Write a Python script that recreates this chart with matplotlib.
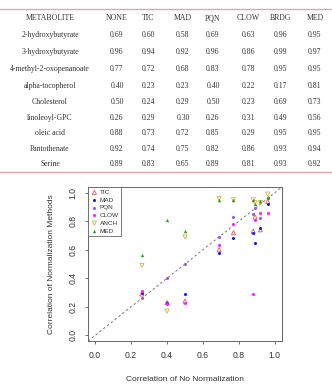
import matplotlib
matplotlib.use("Agg")
import matplotlib.pyplot as plt
from matplotlib.lines import Line2D

header = ["METABOLITE", "NONE", "TIC", "MAD", "PQN", "CLOW", "BRDG", "MED"]
metabolites = ["2-hydroxybutyrate", "3-hydroxybutyrate", "4-methyl-2-oxopenanoate",
               "alpha-tocopherol", "Cholesterol", "linoleoyl-GPC", "oleic acid",
               "Pantothenate", "Serine"]
none_vals = [0.69, 0.96, 0.77, 0.40, 0.50, 0.26, 0.88, 0.92, 0.89]
tic_vals = [0.60, 0.94, 0.72, 0.23, 0.24, 0.29, 0.73, 0.74, 0.83]
mad_vals = [0.58, 0.92, 0.68, 0.23, 0.29, 0.30, 0.72, 0.75, 0.65]
pqn_vals = [0.69, 0.96, 0.83, 0.40, 0.50, 0.26, 0.85, 0.82, 0.89]
clow_vals = [0.63, 0.86, 0.78, 0.22, 0.23, 0.31, 0.29, 0.86, 0.81]
brdg_vals = [0.96, 0.99, 0.95, 0.17, 0.69, 0.49, 0.95, 0.93, 0.93]
med_vals = [0.95, 0.97, 0.95, 0.81, 0.73, 0.56, 0.95, 0.94, 0.92]

legend_labels = ["TIC", "MAD", "PQN", "CLOW", "ANCH", "MED"]
xticks = [0.0, 0.2, 0.4, 0.6, 0.8, 1.0]
yticks = [0.0, 0.2, 0.4, 0.6, 0.8, 1.0]

W, H = 332, 391
fig = plt.figure(figsize=(W / 100, H / 100), dpi=100)

def fy(py):
    return 1 - py / H

def fx(px):
    return px / W

# ---- table ----
pink = "#d8a9b0"
serif = ["Liberation Serif", "DejaVu Serif"]
fig.add_artist(Line2D([0, 1], [fy(9), fy(9)], color=pink, lw=1.0, transform=fig.transFigure))
fig.add_artist(Line2D([0, 1], [fy(172), fy(172)], color=pink, lw=1.0, transform=fig.transFigure))

col_x = [50, 117, 148, 183, 213, 248, 280, 315]
fs_tab = 5.6
for cx, h in zip(col_x, header):
    fig.text(fx(cx), fy(18), h, ha="center", va="center", fontsize=fs_tab,
             family=serif, color="#333333")
row_y = [35, 52, 69, 86, 102, 118, 133, 149, 164]
cols = [none_vals, tic_vals, mad_vals, pqn_vals, clow_vals, brdg_vals, med_vals]
for i, (ry, name) in enumerate(zip(row_y, metabolites)):
    fig.text(fx(col_x[0]), fy(ry), name, ha="center", va="center", fontsize=fs_tab,
             family=serif, color="#333333")
    for j, c in enumerate(cols):
        fig.text(fx(col_x[j + 1]), fy(ry), f"{c[i]:.2f}", ha="center", va="center",
                 fontsize=fs_tab, family=serif, color="#333333")

# ---- scatter plot ----
sans = ["Liberation Sans", "DejaVu Sans"]
ax = fig.add_axes([fx(88), fy(341), fx(282) - fx(88), fy(187) - fy(341)])
ax.set_xlim(-0.04, 1.04)
ax.set_ylim(-0.04, 1.04)

ax.axline((0, 0), slope=1, color="#777777", lw=0.7, ls=(0, (2.5, 2.5)), zorder=1)

styles = [
    dict(marker="^", facecolors="none", edgecolors="#e05a5a", s=9, linewidths=0.6),
    dict(marker="o", c="#1a1aff", s=5, linewidths=0),
    dict(marker="o", c="#9b59e0", s=5, linewidths=0),
    dict(marker="o", c="#ff22ff", s=5, linewidths=0),
    dict(marker="v", facecolors="none", edgecolors="#d9b040", s=9, linewidths=0.6),
    dict(marker="^", c="#22a022", s=6, linewidths=0),
]
series = [tic_vals, mad_vals, pqn_vals, clow_vals, brdg_vals, med_vals]
for lab, vals, st in zip(legend_labels, series, styles):
    ax.scatter(none_vals, vals, label=lab, zorder=3, **st)

ax.set_xticks(xticks)
ax.set_yticks(yticks)
ax.set_xticklabels([f"{t:.1f}" for t in xticks], family=sans, fontsize=6.2, color="#333333")
ax.set_yticklabels([f"{t:.1f}" for t in yticks], family=sans, fontsize=6.2, color="#333333",
                   rotation=90, va="center")
ax.tick_params(direction="out", length=2.5, width=0.6, color="#555555", pad=5)
for sp in ax.spines.values():
    sp.set_color("#666666")
    sp.set_linewidth(0.7)

ax.set_xlabel("Correlation of No Normalization", family=sans, fontsize=6.0,
              color="#333333", labelpad=11)
ax.set_ylabel("Correlation of Normalization Methods", family=sans, fontsize=6.0,
              color="#333333", labelpad=10)

leg = ax.legend(loc="upper left", bbox_to_anchor=(0, 1), borderaxespad=0,
                prop={"family": sans, "size": 4.6}, fancybox=False, framealpha=1,
                edgecolor="#666666", handletextpad=0.2, labelspacing=0.35,
                borderpad=0.4, handlelength=1.2, scatterpoints=1)
leg.get_frame().set_linewidth(0.6)
for t in leg.get_texts():
    t.set_color("#333333")

fig.savefig("out.png", dpi=100)
